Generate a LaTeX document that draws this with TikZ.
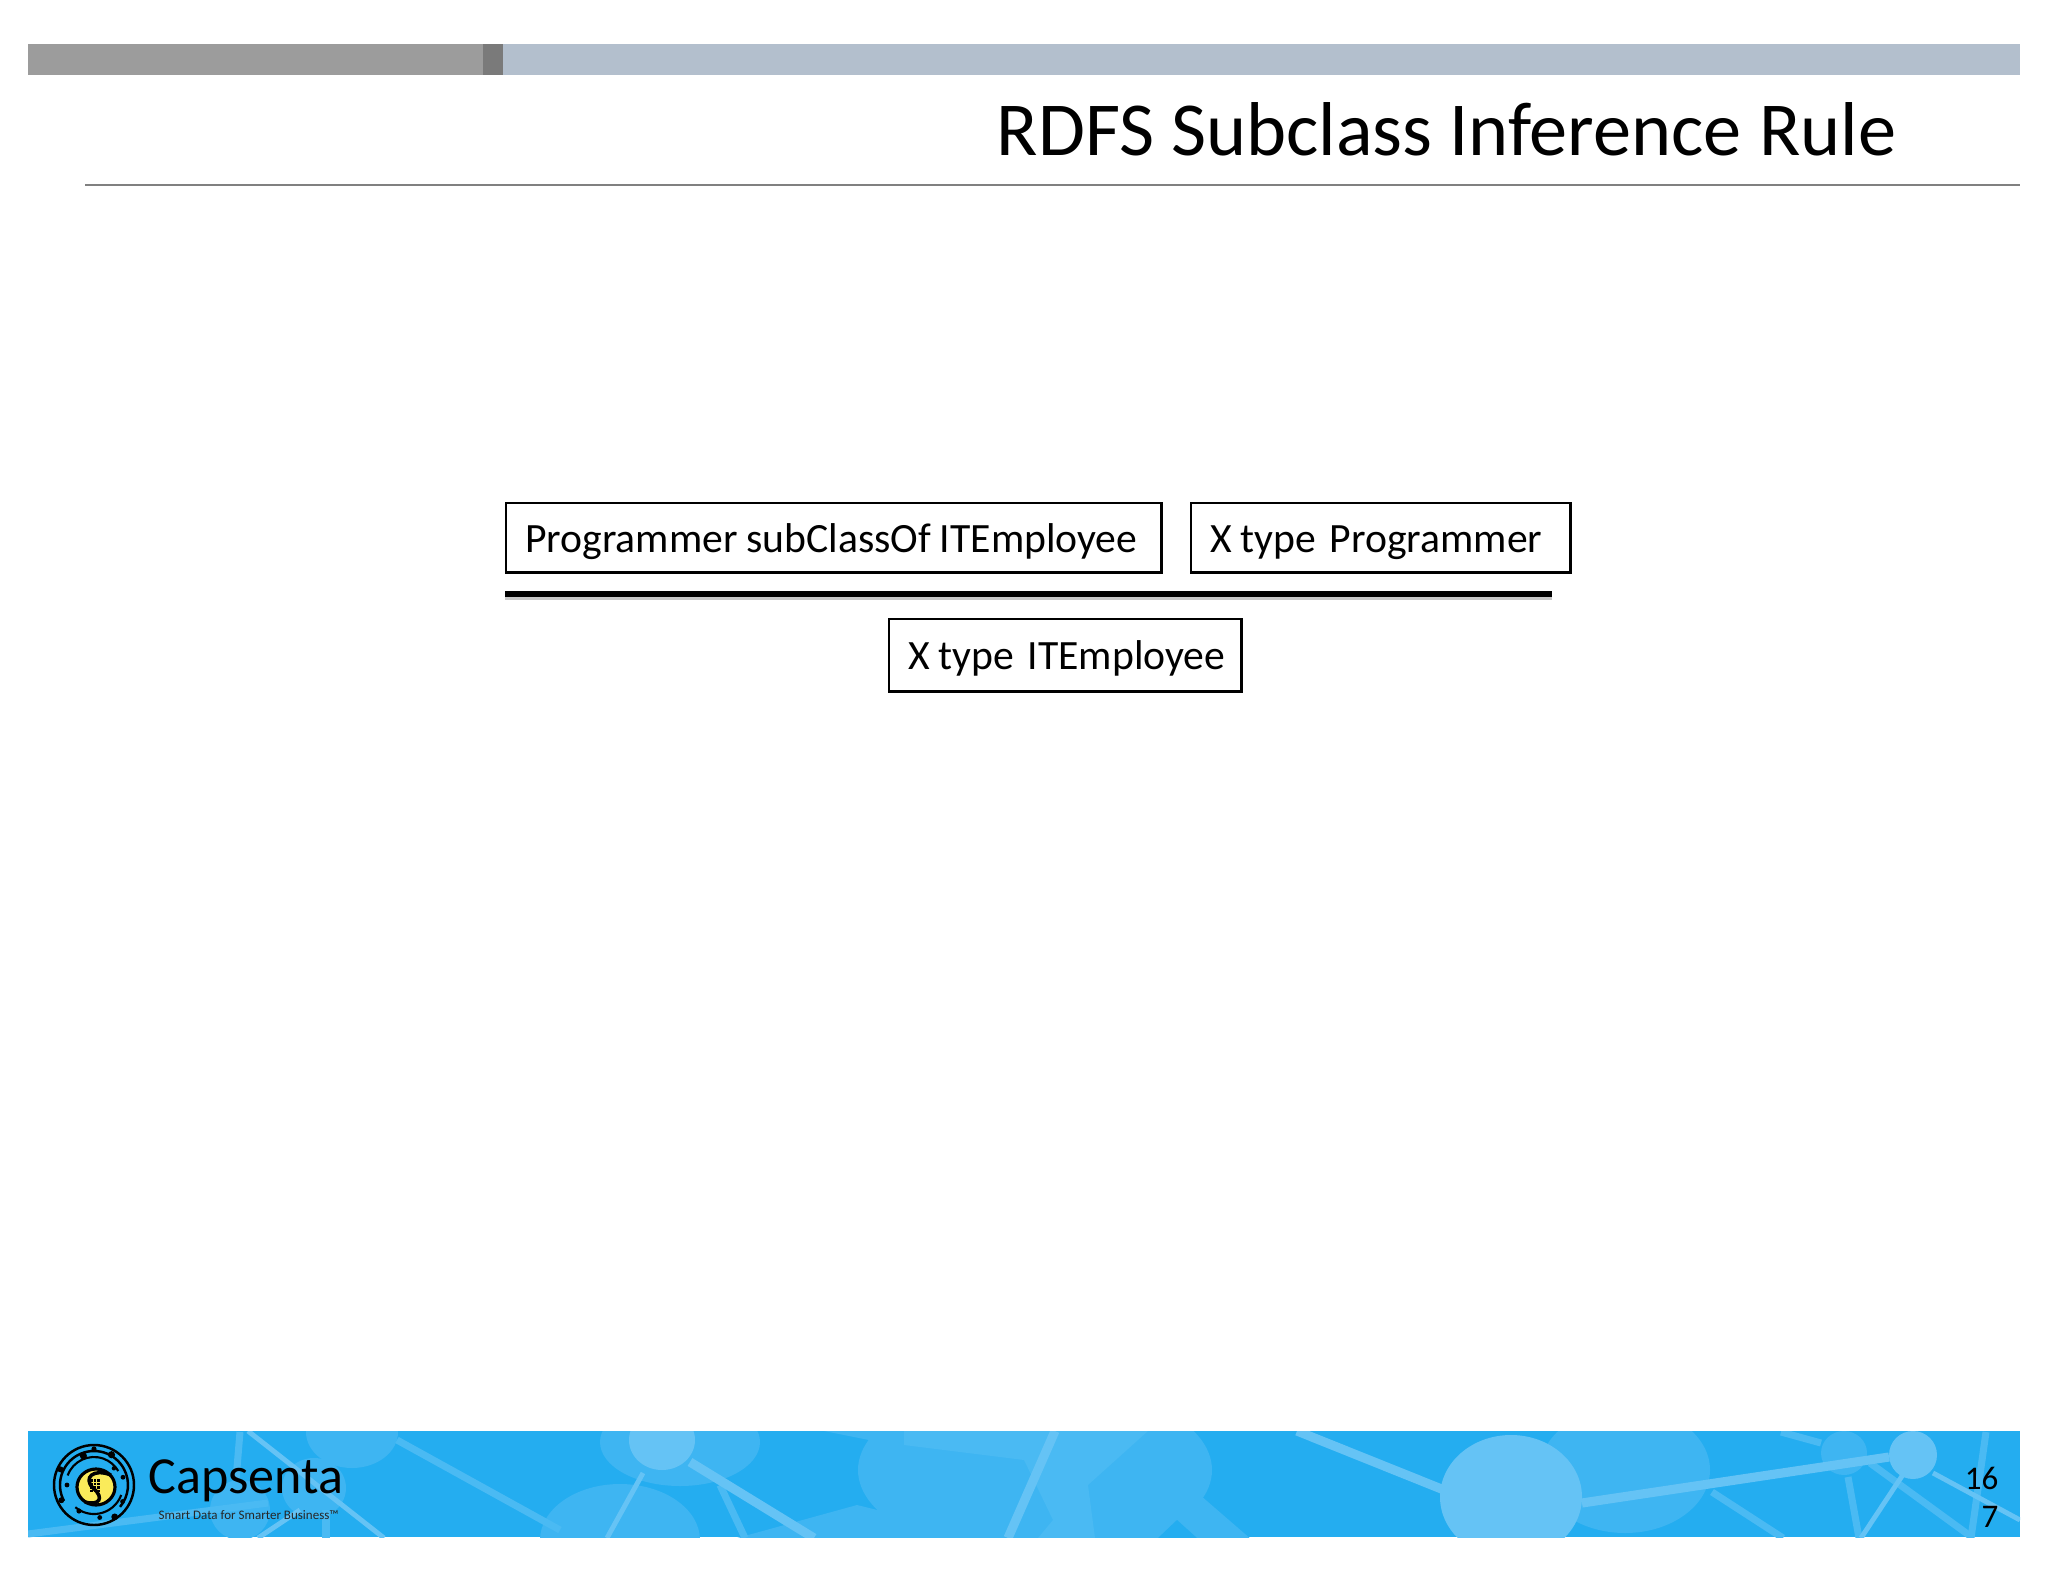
\documentclass[tikz,border=0pt]{standalone}
\usepackage{fontspec}
\setmainfont{Carlito}
\newcommand{\tightwords}{\spaceskip=.21em\relax}
\definecolor{bannerblue}{RGB}{36,173,240}
\definecolor{nodelight}{RGB}{101,195,245}
\definecolor{nodefaint}{RGB}{62,181,242}
\definecolor{nodemid}{RGB}{74,186,243}
\definecolor{barblue}{RGB}{179,191,205}
\definecolor{logoyellow}{RGB}{250,235,90}
\tikzset{
  rulebox/.style={draw, line width=0.7pt, inner xsep=0.19cm, inner ysep=0.08cm, text height=0.41cm, text depth=0.12cm, align=left, anchor=north west, font=\fontsize{11.85}{13}\selectfont},
  netlink/.style={nodelight, line width=2.6pt},
  thinlink/.style={nodemid, line width=2pt}
}
\begin{document}
\begin{tikzpicture}[x=0.01cm, y=-0.01cm]
    \useasboundingbox (0,0) rectangle (2048,1582);
    \fill[white] (0,0) rectangle (2048,1582);

    % Top bar
    \fill[black!39] (28,44) rectangle (483,75);
    \fill[black!52] (483,44) rectangle (503,75);
    \fill[barblue] (503,44) rectangle (2020,75);
    \draw[black!50, line width=0.75pt] (85,185) -- (2020,185);

    % Title
    \node[anchor=base east, inner sep=0pt, font=\fontsize{21.7}{24}\selectfont] (title) at (1897,156) {RDFS Subclass Inference Rule};

    % Premises
    \node[rulebox, text width=6.17cm] (subclass) at (505,502) {\mbox{\tightwords Programmer subClassOf ITEmployee}};
    \node[rulebox, text width=3.41cm] (typeprog) at (1190,502) {\mbox{\tightwords X type\hspace{.33em}Programmer}};

    % Inference line
    \coordinate (lineleft) at (505,594);
    \coordinate (lineright) at (1552,594);
    \draw[black!22, line width=1.7pt, transform canvas={yshift=-0.9pt}] (lineleft) -- (lineright);
    \draw[line width=1.7pt] (lineleft) -- (lineright);

    % Conclusion
    \node[rulebox, text width=3.14cm, inner ysep=0.095cm] (typeit) at (888,618) {\mbox{\tightwords X type\hspace{.33em}ITEmployee}};

    % Banner
    \begin{scope}
        \clip (28,1431) rectangle (2020,1537);
        \fill[bannerblue] (28,1431) rectangle (2020,1537);
        % Faint shapes
        \fill[nodefaint] (680,1442) ellipse (80 and 44);
        \fill[nodefaint] (352,1432) ellipse (46 and 36);
        \fill[nodefaint] (620,1540) ellipse (80 and 56);
        \fill[nodefaint] (240,1510) ellipse (30 and 30);
        \fill[nodefaint] (314,1488) ellipse (32 and 30);
        \fill[nodefaint] (1035,1470) ellipse (177 and 88);
        \fill[nodefaint] (857,1505) -- (730,1540) -- (1000,1540) -- cycle;
        \fill[nodefaint] (1200,1495) -- (1252,1540) -- (1100,1540) -- cycle;
        \fill[nodefaint] (824,1431) -- (894,1445) -- (910,1431) -- cycle;
        \fill[nodefaint] (1625,1470) ellipse (85 and 63);
        \fill[nodefaint] (1844,1453) ellipse (23 and 22);
        \fill[bannerblue] (1177,1520) -- (1158,1538) -- (1197,1538) -- cycle;
        \fill[nodemid] (904,1431) -- (1148,1431) -- (1088,1485) -- (1095,1538) -- (1038,1538) -- (1053,1520) -- (1024,1460) -- (904,1445) -- cycle;
        % Faint links
        \foreach \xa/\ya/\xb/\yb in {397/1440/560/1530, 28/1534/268/1503, 720/1485/745/1538, 1712/1492/1783/1538, 1870/1463/1973/1538, 1848/1477/1859/1538, 1986/1432/1971/1538, 1781/1432/1821/1443, 326/1510/326/1538, 240/1432/236/1480}
            \draw[thinlink] (\xa,\ya) -- (\xb,\yb);
        % Bright links
        \foreach \xa/\ya/\xb/\yb in {1297/1431/1444/1490, 1582/1503/1889/1457, 690/1462/814/1538, 1055/1431/1008/1538}
            \draw[netlink] (\xa,\ya) -- (\xb,\yb);
        \foreach \xa/\ya/\xb/\yb in {1904/1473/1861/1538, 1933/1473/2020/1520, 248/1431/384/1538, 643/1473/607/1538, 300/1510/258/1538}
            \draw[netlink, line width=1.4pt] (\xa,\ya) -- (\xb,\yb);
        % Bright nodes
        \fill[nodelight] (1511,1497) ellipse (71 and 62);
        \fill[nodelight] (1913,1455) ellipse (24 and 24);
        \fill[nodelight] (662,1440) ellipse (33 and 30);
    \end{scope}

    % Logo rings
    \begin{scope}[shift={(94,1485)}]
        \draw[line width=0.7pt] (0,0) ellipse (40 and 40);
        \draw[line width=0.7pt] (152:34) arc[start angle=152, end angle=400, radius=34];
        \draw[line width=0.6pt] (200:28) arc[start angle=200, end angle=330, radius=28];
        \draw[line width=0.6pt] (20:29) arc[start angle=20, end angle=130, radius=29];
        \foreach \ang/\rad/\size in {57/38/3.4, 155/36/3, 205/37/3, 250/31/3.6, 300/35/3.6, 120/30/2.6, 80/33/2.4, 30/33/2.4, 345/30/2.4, 180/27/2.4, 270/36/2.6, 320/26/2.2}
            \fill (\ang:\rad) circle (\size);
    \end{scope}
    % Logo centre
    \fill[logoyellow, draw=black, line width=0.9pt] (96,1487) ellipse (19 and 18);
    \draw[line width=1pt] (111,1475) .. controls (93,1468) and (83,1478) .. (93,1488) .. controls (105,1498) and (99,1506) .. (85,1502);
    \foreach \dx in {0,1,2}
        \foreach \dy in {0,1,2,3}
            \fill (90+3.6*\dx,1479+3.6*\dy) rectangle ++(2.6,2.6);

    % Logo text
    \node[anchor=base west, inner sep=0pt, font=\fontsize{14.8}{16}\selectfont] (logoname) at (148,1493) {Capsenta};
    \node[anchor=base west, inner sep=0pt, font=\fontsize{3.7}{5}\selectfont, text=black!85] (logotag) at (158,1519) {Smart Data for Smarter Business™};

    % Page number
    \node[anchor=base east, align=right, inner sep=0pt, font=\fontsize{9.4}{10.8}\selectfont] (pagenum) at (1999,1527) {16\\7};
\end{tikzpicture}
\end{document}
